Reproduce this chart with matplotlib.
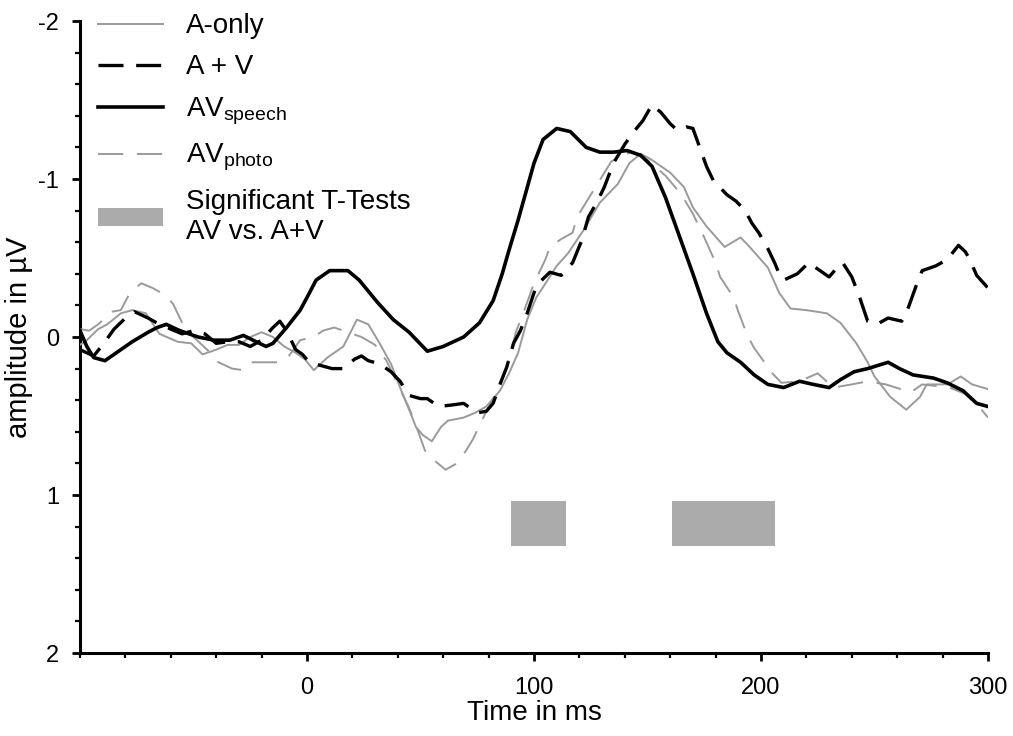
import numpy as np
import matplotlib
matplotlib.use('Agg')
import matplotlib.pyplot as plt
from matplotlib.lines import Line2D
from matplotlib.patches import Patch
import matplotlib.ticker as tck

plt.rcParams['font.family'] = ['Liberation Sans', 'DejaVu Sans']
plt.rcParams['mathtext.fontset'] = 'custom'
plt.rcParams['mathtext.rm'] = 'Liberation Sans'
plt.rcParams['mathtext.it'] = 'Liberation Sans'
plt.rcParams['axes.unicode_minus'] = False

# AV speech (black solid)
t_speech = [-100, -97, -94, -89, -84, -77, -70, -66, -62, -56, -48, -41, -34, -28, -21, -18, -15, -9, -3, 0,
            4, 10, 18, 23, 31, 38, 45, 53, 60, 69, 76, 82, 86, 89, 93, 100, 104, 110, 116, 123,
            129, 135, 141, 147, 152, 158, 164, 170, 176, 181, 185, 191, 197, 203, 210, 217, 223, 230, 235, 241,
            247, 256, 261, 267, 276, 282, 289, 295, 300]
speech = [-0.04, 0.06, 0.13, 0.15, 0.10, 0.03, -0.03, -0.06, -0.08, -0.04, 0.0, 0.02, 0.02, -0.01, 0.04, 0.06, 0.04, -0.06, -0.17, -0.25,
          -0.36, -0.42, -0.42, -0.36, -0.22, -0.11, -0.03, 0.09, 0.06, 0.0, -0.09, -0.23, -0.40, -0.55, -0.74, -1.10, -1.25, -1.32, -1.30, -1.20,
          -1.17, -1.17, -1.18, -1.15, -1.08, -0.88, -0.64, -0.40, -0.15, 0.03, 0.10, 0.16, 0.24, 0.30, 0.32, 0.28, 0.30, 0.32, 0.27, 0.22,
          0.20, 0.16, 0.20, 0.24, 0.26, 0.29, 0.34, 0.42, 0.44]

# A + V (black dashed)
t_apv = [-100, -97, -94, -90, -85, -80, -76, -70, -65, -60, -55, -50, -45, -40, -35, -30, -25, -20, -15, -12,
         -9, -5, -2, 1, 6, 11, 16, 21, 24, 27, 32, 37, 41, 45, 50, 53, 58, 64, 69, 75,
         79, 82, 85, 88, 91, 94, 97, 100, 102, 107, 112, 117, 121, 124, 128, 131, 135, 140, 144, 148,
         152, 156, 160, 163, 167, 170, 172, 176, 179, 185, 189, 193, 196, 199, 203, 206, 208, 210, 213, 216,
         221, 226, 230, 233, 236, 240, 243, 247, 251, 256, 262, 265, 269, 271, 277, 282, 287, 290, 292, 295, 300]
apv = [0.08, 0.10, 0.12, 0.05, -0.05, -0.12, -0.16, -0.12, -0.08, -0.05, -0.02, -0.04, -0.02, 0.04, 0.03, 0.03, 0.06, 0.02, -0.06, -0.10,
       -0.04, 0.08, 0.11, 0.16, 0.18, 0.20, 0.20, 0.14, 0.12, 0.15, 0.17, 0.22, 0.28, 0.37, 0.39, 0.39, 0.44, 0.43, 0.42, 0.48,
       0.47, 0.42, 0.30, 0.19, 0.04, -0.04, -0.15, -0.28, -0.34, -0.41, -0.39, -0.47, -0.61, -0.76, -0.86, -0.95, -1.10, -1.22, -1.30, -1.37,
       -1.47, -1.42, -1.35, -1.31, -1.33, -1.32, -1.24, -1.08, -0.99, -0.90, -0.86, -0.80, -0.72, -0.66, -0.56, -0.47, -0.40, -0.36, -0.38, -0.40,
       -0.47, -0.42, -0.38, -0.43, -0.47, -0.38, -0.27, -0.10, -0.08, -0.12, -0.10, -0.19, -0.35, -0.42, -0.45, -0.49, -0.58, -0.54, -0.49, -0.39, -0.31]

# A-only (grey solid)
t_aonly = [-100, -97, -92, -88, -82, -77, -71, -65, -57, -51, -46, -40, -35, -30, -25, -20, -15, -10, -5, -1,
           3, 9, 16, 22, 27, 32, 37, 41, 45, 48, 51, 55, 59, 62, 69, 74, 79, 85, 89, 93,
           97, 101, 106, 110, 115, 122, 129, 137, 142, 147, 152, 160, 166, 170, 176, 184, 191, 195, 203, 208,
           213, 220, 229, 235, 242, 247, 250, 257, 264, 270, 273, 282, 288, 293, 300]
aonly = [0.05, 0.02, -0.05, -0.08, -0.15, -0.17, -0.15, -0.02, 0.03, 0.04, 0.11, 0.08, 0.05, 0.05, 0.0, -0.03, 0.0, 0.06, 0.10, 0.14,
         0.21, 0.13, 0.06, -0.11, -0.08, 0.04, 0.17, 0.32, 0.46, 0.57, 0.62, 0.66, 0.57, 0.53, 0.51, 0.48, 0.44, 0.34, 0.23, 0.10,
         -0.11, -0.25, -0.36, -0.45, -0.53, -0.68, -0.85, -0.97, -1.10, -1.16, -1.12, -1.04, -0.95, -0.82, -0.70, -0.57, -0.63, -0.57, -0.44, -0.28,
         -0.18, -0.17, -0.15, -0.09, 0.04, 0.16, 0.25, 0.38, 0.46, 0.38, 0.30, 0.30, 0.25, 0.30, 0.33]

# AV photo (grey dashed)
t_photo = [-100, -96, -92, -86, -82, -78, -73, -68, -63, -59, -55, -50, -44, -39, -33, -28, -24, -18, -12, -8,
           -3, 3, 7, 12, 18, 24, 30, 35, 40, 45, 49, 52, 56, 61, 66, 70, 73, 78, 83, 88,
           92, 96, 100, 105, 107, 112, 117, 119, 125, 128, 134, 139, 143, 150, 158, 165, 170, 175, 180, 182,
           188, 190, 194, 197, 205, 209, 217, 225, 232, 240, 247, 255, 266, 271, 283, 290, 296, 300]
photo = [-0.05, -0.04, -0.08, -0.16, -0.17, -0.28, -0.34, -0.31, -0.27, -0.21, -0.09, 0.0, 0.08, 0.16, 0.20, 0.21, 0.16, 0.16, 0.16, 0.12,
         0.02, 0.0, -0.04, -0.06, -0.03, 0.0, 0.05, 0.15, 0.30, 0.45, 0.60, 0.72, 0.78, 0.84, 0.80, 0.72, 0.65, 0.50, 0.36, 0.19,
         -0.03, -0.18, -0.34, -0.49, -0.57, -0.62, -0.66, -0.76, -0.90, -0.97, -1.11, -1.15, -1.17, -1.12, -1.02, -0.90, -0.78, -0.63, -0.47, -0.38,
         -0.25, -0.16, -0.01, 0.07, 0.23, 0.29, 0.28, 0.23, 0.32, 0.30, 0.28, 0.30, 0.35, 0.30, 0.32, 0.36, 0.44, 0.51]

# significant t-test windows (ms) and their vertical band
sig_start = [90, 161]
sig_end = [114, 206]
sig_band = (1.04, 1.32)

GREY = '#9a9a9a'
SIGGREY = '#ababab'


def main():
    fig = plt.figure(figsize=(10.13, 7.36), dpi=100)
    ax = fig.add_axes([80 / 1013, 83 / 736, 908 / 1013, 632 / 736])

    ax.plot(t_aonly, aonly, color=GREY, lw=1.4, zorder=3)
    ax.plot(t_photo, photo, color=GREY, lw=1.4, dashes=(13, 7), zorder=3)
    ax.plot(t_apv, apv, color='black', lw=2.4, dashes=(7.5, 3.8), zorder=4)
    ax.plot(t_speech, speech, color='black', lw=2.6, zorder=5)

    for s, e in zip(sig_start, sig_end):
        ax.fill_between([s, e], sig_band[0], sig_band[1], color=SIGGREY, lw=0, zorder=2)

    ax.set_xlim(-100, 300)
    ax.set_ylim(2, -2)
    ax.xaxis.set_major_locator(tck.FixedLocator([0, 100, 200, 300]))
    ax.xaxis.set_minor_locator(tck.MultipleLocator(20))
    ax.yaxis.set_major_locator(tck.MultipleLocator(1))
    ax.yaxis.set_minor_locator(tck.MultipleLocator(0.2))

    for side in ['top', 'right']:
        ax.spines[side].set_visible(False)
    for side in ['left', 'bottom']:
        ax.spines[side].set_linewidth(2.2)

    ax.tick_params(which='major', direction='out', length=6, width=2, labelsize=17)
    ax.tick_params(which='minor', direction='out', length=3.5, width=1.6)
    ax.tick_params(axis='x', which='major', pad=11)
    ax.tick_params(axis='y', which='major', pad=9)

    ax.set_xlabel('Time in ms', fontsize=20, labelpad=1)
    ax.set_ylabel('amplitude in µV', fontsize=21, labelpad=4)

    handles = [Line2D([], [], color=GREY, lw=1.4),
               Line2D([], [], color='black', lw=2.4, dashes=(7.5, 3.8)),
               Line2D([], [], color='black', lw=2.6),
               Line2D([], [], color=GREY, lw=1.4, dashes=(13, 7)),
               Patch(facecolor=SIGGREY, edgecolor='none')]
    labels = ['A-only', 'A + V', 'AV$_{\\rm speech}$', 'AV$_{\\rm photo}$',
              'Significant T-Tests\nAV vs. A+V']
    fig.legend(handles, labels, loc='upper left', bbox_to_anchor=(98 / 1013, 1 - 13 / 736),
               frameon=False, fontsize=20, handlelength=2.34, handletextpad=0.83,
               labelspacing=0.55, borderpad=0, borderaxespad=0, handleheight=0.6)

    plt.savefig('out.png', dpi=100)
    plt.close()


if __name__ == '__main__':
    main()
